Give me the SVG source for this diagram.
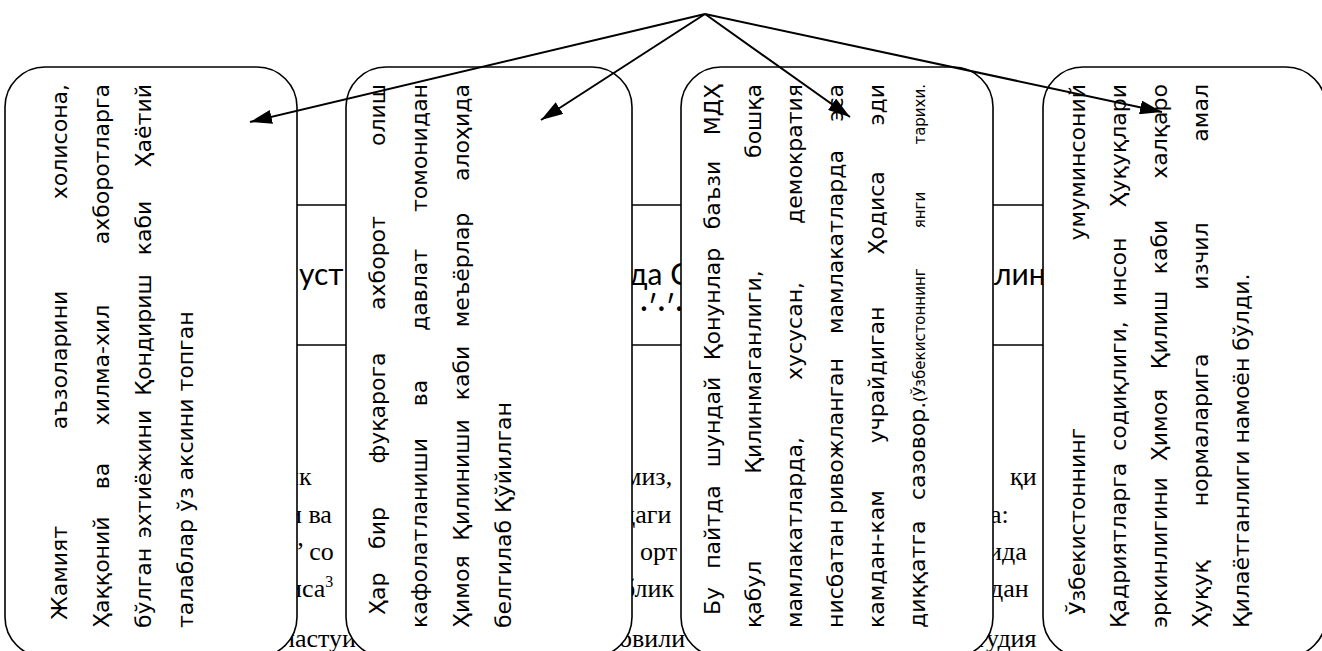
<svg xmlns="http://www.w3.org/2000/svg" width="1322" height="651" viewBox="0 0 1322 651">
<style>
.bg{font-family:"Liberation Serif",serif;font-size:26px;fill:#000}
.hd{font-family:Lato,"Open Sans",sans-serif;font-size:30px;fill:#000}
.box{fill:#fff;stroke:#000;stroke-width:1.6}
.t{font-family:"DejaVu Sans","Noto Sans",sans-serif;font-size:22px;fill:#000}
.sm{font-size:15px}
.s{text-anchor:start}.m{text-anchor:middle}.e{text-anchor:end}
.rule{stroke:#000;stroke-width:1.6}
.conn{stroke:#000;stroke-width:2;fill:none}
</style>
<defs>
<marker id="ah" markerUnits="userSpaceOnUse" markerWidth="24" markerHeight="14" refX="22" refY="7" orient="auto">
<path d="M0,0 L22,7 L0,14 z" fill="#000"/>
</marker>
</defs>
<g id="background">
<line class="rule" x1="290" y1="205" x2="1050" y2="205"/>
<line class="rule" x1="290" y1="345" x2="1050" y2="345"/>
<text class="hd" x="299" y="285">уст</text>
<text class="hd" x="629" y="285">да С</text>
<text class="hd" x="994" y="285">лин</text>
<text class="hd" x="640" y="318" font-size="12">·ʹ·ʹ·ʹ</text>
<text class="bg" x="285" y="485">ик</text>
<text class="bg" x="288" y="523">и ва</text>
<text class="bg" x="296" y="560">’ со</text>
<text class="bg" x="288" y="597">иса<tspan font-size="16" dy="-10">3</tspan></text>
<text class="bg" x="282" y="647">ластуи</text>
<text class="bg" x="625" y="485">миз,</text>
<text class="bg" x="622" y="523">даги</text>
<text class="bg" x="640" y="560">орт</text>
<text class="bg" x="622" y="597">блик</text>
<text class="bg" x="606" y="647">ловили</text>
<text class="bg" x="1010" y="485">қи</text>
<text class="bg" x="990" y="523">а:</text>
<text class="bg" x="988" y="560">ида</text>
<text class="bg" x="990" y="597">дан</text>
<text class="bg" x="975" y="647">тудия</text>
</g>
<g id="node1">
<rect class="box" x="5" y="67" width="292" height="590" rx="40" ry="40"/>
<g class="t" transform="rotate(-90)">
<text class="s" x="-620" y="67">Жамият</text><text class="m" x="-360" y="67">аъзоларини</text><text class="e" x="-84" y="67">холисона,</text>
<text class="s" x="-628" y="109">Ҳаққоний</text><text class="m" x="-476" y="109">ва</text><text class="m" x="-365" y="109">хилма-хил</text><text class="e" x="-84" y="109">ахборотларга</text>
<text class="s" x="-628" y="151">бўлган</text><text class="m" x="-474" y="151">эхтиёжини</text><text class="m" x="-335" y="151">Қондириш</text><text class="m" x="-228" y="151">каби</text><text class="e" x="-84" y="151">Ҳаётий</text>
<text class="s" x="-628" y="193">талаблар ўз аксини топган</text>
</g>
</g>
<g id="node2">
<rect class="box" x="346" y="67" width="286" height="590" rx="40" ry="40"/>
<g class="t" transform="rotate(-90)">
<text class="s" x="-615" y="385">Ҳар</text><text class="m" x="-528" y="385">бир</text><text class="m" x="-408" y="385">фуқарога</text><text class="m" x="-263" y="385">ахборот</text><text class="e" x="-84" y="385">олиш</text>
<text class="s" x="-628" y="427">кафолатланиши</text><text class="m" x="-393" y="427">ва</text><text class="m" x="-290" y="427">давлат</text><text class="e" x="-84" y="427">томонидан</text>
<text class="s" x="-628" y="469">Ҳимоя</text><text class="m" x="-480" y="469">Қилиниши</text><text class="m" x="-373" y="469">каби</text><text class="m" x="-270" y="469">меъёрлар</text><text class="e" x="-84" y="469">алоҳида</text>
<text class="s" x="-628" y="511">белгилаб Қўйилган</text>
</g>
</g>
<g id="node3">
<rect class="box" x="681" y="67" width="312" height="590" rx="40" ry="40"/>
<g class="t" transform="rotate(-90)">
<text class="s" x="-615" y="720">Бу</text><text class="m" x="-527" y="720">пайтда</text><text class="m" x="-422" y="720">шундай</text><text class="m" x="-304" y="720">Қонунлар</text><text class="m" x="-195" y="720">баъзи</text><text class="e" x="-84" y="720">МДҲ</text>
<text class="s" x="-628" y="761">қабул</text><text class="m" x="-372" y="761">Қилинмаганлиги,</text><text class="e" x="-84" y="761">бошқа</text>
<text class="s" x="-628" y="802">мамлакатларда,</text><text class="m" x="-331" y="802">хусусан,</text><text class="e" x="-84" y="802">демократия</text>
<text class="s" x="-628" y="843">нисбатан</text><text class="m" x="-436" y="843">ривожланган</text><text class="m" x="-242" y="843">мамлакатларда</text><text class="e" x="-84" y="843">эса</text>
<text class="s" x="-628" y="884">камдан-кам</text><text class="m" x="-375" y="884">учрайдиган</text><text class="m" x="-213" y="884">Ҳодиса</text><text class="e" x="-84" y="884">эди</text>
<text class="s" x="-628" y="925">диққатга</text><text class="s" x="-500" y="925">сазовор.<tspan class="sm">(Ўзбекистоннинг</tspan></text><text class="m sm" x="-210" y="925">янги</text><text class="e sm" x="-84" y="925">тарихи.</text>
</g>
</g>
<g id="node4">
<rect class="box" x="1043" y="67" width="283" height="590" rx="40" ry="40"/>
<g class="t" transform="rotate(-90)">
<text class="s" x="-615" y="1085">Ўзбекистоннинг</text><text class="e" x="-84" y="1085">умуминсоний</text>
<text class="s" x="-628" y="1126">Қадриятларга</text><text class="m" x="-386" y="1126">содиқлиги,</text><text class="m" x="-272" y="1126">инсон</text><text class="e" x="-84" y="1126">Ҳуқуқлари</text>
<text class="s" x="-628" y="1167">эркинлигини</text><text class="m" x="-425" y="1167">Ҳимоя</text><text class="m" x="-330" y="1167">Қилиш</text><text class="m" x="-247" y="1167">каби</text><text class="e" x="-84" y="1167">халқаро</text>
<text class="s" x="-628" y="1208">Ҳуқуқ</text><text class="m" x="-430" y="1208">нормаларига</text><text class="m" x="-256" y="1208">изчил</text><text class="e" x="-84" y="1208">амал</text>
<text class="s" x="-628" y="1249">Қилаётганлиги намоён бўлди.</text>
</g>
</g>
<g id="connectors">
<line class="conn" x1="705" y1="14" x2="250" y2="122" marker-end="url(#ah)"/>
<line class="conn" x1="705" y1="14" x2="541" y2="120" marker-end="url(#ah)"/>
<line class="conn" x1="705" y1="14" x2="850" y2="117" marker-end="url(#ah)"/>
<line class="conn" x1="705" y1="14" x2="1162" y2="112" marker-end="url(#ah)"/>
</g>
</svg>
